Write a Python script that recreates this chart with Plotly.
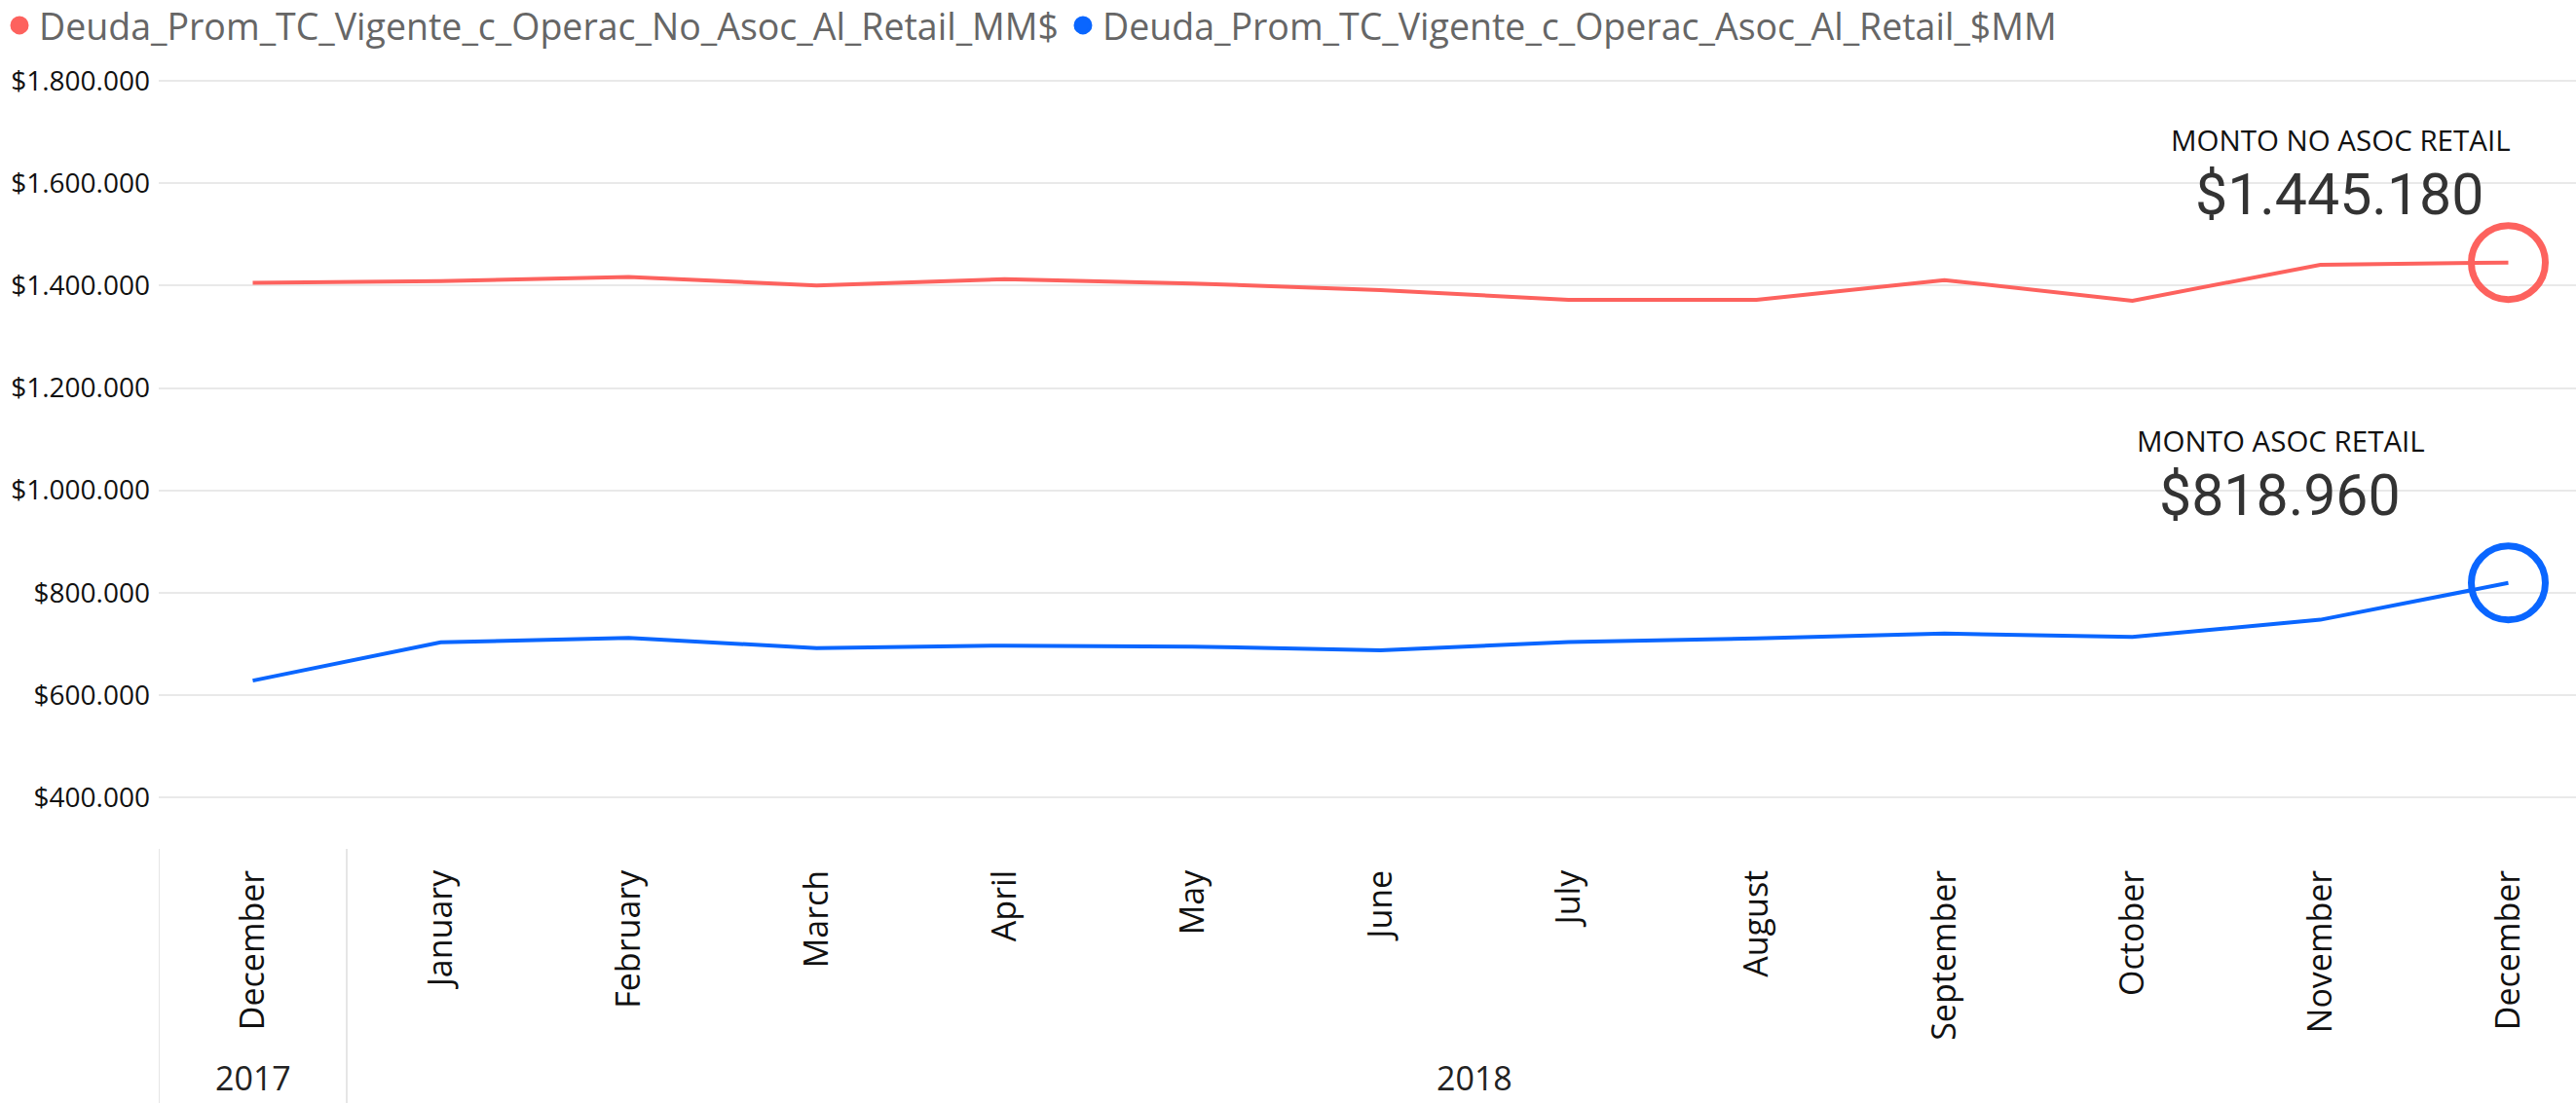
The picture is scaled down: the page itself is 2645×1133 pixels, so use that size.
import plotly.graph_objects as go

# ---- data ----
month_labels = ["December", "January", "February", "March", "April", "May", "June",
                "July", "August", "September", "October", "November", "December"]
year_labels = ["2017", "2018"]
name_no_asoc = "Deuda_Prom_TC_Vigente_c_Operac_No_Asoc_Al_Retail_MM$"
name_asoc = "Deuda_Prom_TC_Vigente_c_Operac_Asoc_Al_Retail_$MM"
deuda_no_asoc = [1405700, 1408900, 1417000, 1400600, 1412700, 1404400, 1391500,
                 1372500, 1372500, 1411000, 1370500, 1441000, 1445180]
deuda_asoc = [628000, 702900, 711700, 691400, 696500, 694600, 687000,
              703500, 710500, 720000, 713500, 747000, 818960]
card_titles = ["MONTO NO ASOC RETAIL", "MONTO ASOC RETAIL"]

RED = "#FD625E"
BLUE = "#0A66FF"
FONT = "Open Sans"
xs = list(range(len(month_labels)))

W, H = 2645, 1133
ML, MT, MB = 163, 57, 261
PW = W - ML
PH = H - MT - MB


def px2paper(px, py):
    return (px - ML) / PW, 1 - (py - MT) / PH


def money(v):
    return "$" + f"{v:,}".replace(",", ".")


fig = go.Figure()
for name, vals, col in [(name_no_asoc, deuda_no_asoc, RED), (name_asoc, deuda_asoc, BLUE)]:
    fig.add_trace(go.Scatter(x=xs, y=vals, mode="lines", line=dict(color=col, width=4),
                             name=name, legendgroup=name, showlegend=False))
    # circle highlighting the last value
    fig.add_trace(go.Scatter(x=[xs[-1]], y=[vals[-1]], mode="markers",
                             marker=dict(symbol="circle-open", size=76, color=col,
                                         line=dict(color=col, width=7)),
                             legendgroup=name, showlegend=False, hoverinfo="skip"))
    # legend entry as a dot
    fig.add_trace(go.Scatter(x=[None], y=[None], mode="markers", name=name, legendgroup=name,
                             marker=dict(symbol="circle", size=16, color=col,
                                         line=dict(color=col, width=3))))

annotations = []
for title, vals, (tx, ty), (vx, vy) in [
    (card_titles[0], deuda_no_asoc, (2403, 143), (2402, 199)),
    (card_titles[1], deuda_asoc, (2342, 452), (2341, 508)),
]:
    x, y = px2paper(tx, ty)
    annotations.append(dict(text=title, x=x, y=y, xref="paper", yref="paper",
                            showarrow=False, xanchor="center", yanchor="middle",
                            font=dict(family=FONT, size=29.5, color="#111111")))
    x, y = px2paper(vx, vy)
    annotations.append(dict(text=money(vals[-1]), x=x, y=y, xref="paper", yref="paper",
                            showarrow=False, xanchor="center", yanchor="middle",
                            font=dict(family="Roboto", size=59, color="#333333")))

year_y = -(1107 - (MT + PH)) / PH
for label, xpos in [(year_labels[0], 0), (year_labels[1], (1 + len(xs) - 1) / 2)]:
    annotations.append(dict(text=label, x=xpos, y=year_y, xref="x", yref="paper",
                            showarrow=False, xanchor="center", yanchor="middle", borderpad=0,
                            font=dict(family=FONT, size=34, color="#222222")))

sep_bottom = -(H - (MT + PH)) / PH
shapes = [dict(type="line", xref="x", yref="paper", x0=xv, x1=xv, y0=0, y1=sep_bottom,
               line=dict(color="#E6E6E6", width=2)) for xv in (-0.5, 0.5)]

fig.update_layout(
    width=W, height=H, autosize=False,
    margin=dict(l=ML, r=0, t=MT, b=MB, pad=0),
    paper_bgcolor="white", plot_bgcolor="white",
    separators=",.",
    font=dict(family=FONT, color="#222222"),
    showlegend=True,
    legend=dict(orientation="h", xref="container", yref="container", x=0, y=1 - 26 / H,
                xanchor="left", yanchor="middle", font=dict(family=FONT, size=37.5, color="#666666"),
                itemwidth=30, tracegroupgap=0, bgcolor="rgba(0,0,0,0)"),
    xaxis=dict(range=[-0.5, (W - ML) / (356 - ML) - 0.5], tickmode="array", tickvals=xs,
               ticktext=month_labels, tickangle=-90, showgrid=False, zeroline=False,
               showline=False, ticks="", ticklabelstandoff=14, automargin=False,
               tickfont=dict(family=FONT, size=34, color="#111111")),
    yaxis=dict(range=[299000, 1850000], tick0=0, dtick=200000, tickprefix="$",
               tickformat=",d", showgrid=True, gridcolor="#E9E9E9", gridwidth=2,
               zeroline=False, showline=False, ticks="", ticklabelstandoff=8, automargin=False,
               tickfont=dict(family=FONT, size=28, color="#111111")),
    annotations=annotations, shapes=shapes,
)

fig.write_html("out.html", config={"displayModeBar": False},
               post_script="document.body.style.margin='0';document.body.style.overflow='hidden';")
